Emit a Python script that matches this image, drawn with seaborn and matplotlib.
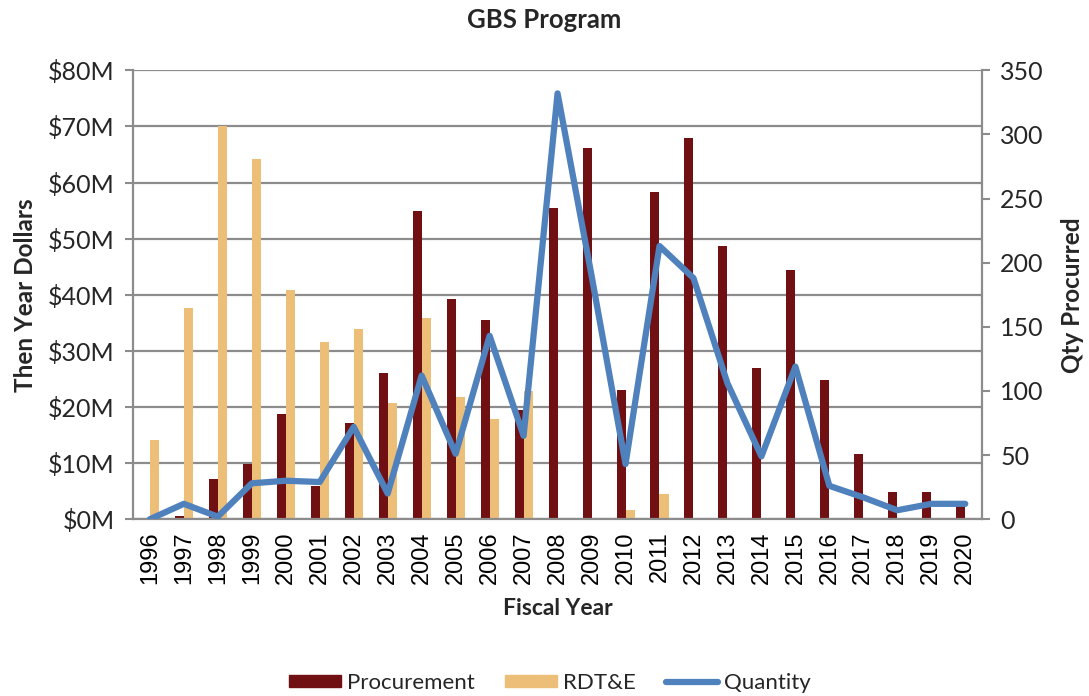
import numpy as np
import pandas as pd
import matplotlib
matplotlib.use("Agg")
import matplotlib.pyplot as plt
from matplotlib.patches import Patch
from matplotlib.lines import Line2D
from matplotlib.ticker import FuncFormatter, MultipleLocator
import seaborn as sns

# Fiscal years and funding (then-year $M) / quantities
years = [str(y) for y in range(1996, 2021)]
procurement = [0.0, 0.6, 7.2, 9.9, 18.7, 5.9, 17.2, 26.1, 54.9, 39.2, 35.5, 19.4,
               55.4, 66.1, 23.0, 58.3, 67.9, 48.7, 27.0, 44.4, 24.8, 11.7, 4.9, 4.9, 2.8]
rdte = [14.1, 37.7, 70.1, 64.2, 40.9, 31.6, 33.9, 20.7, 35.8, 21.8, 17.9, 22.8,
        0.3, 0.0, 1.7, 4.5, 0, 0, 0, 0, 0, 0, 0, 0, 0]
quantity = [0, 12, 2, 28, 30, 29, 72, 20, 112, 51, 143, 65,
            332, 190, 43, 213, 188, 106, 49, 119, 26, 17, 7, 12, 12]

series_names = ["Procurement", "RDT&E"]
line_name = "Quantity"

c_proc = "#701012"
c_rdte = "#EDBE78"
c_qty = "#4F81BD"
c_grid = "#8C8C8C"

sns.set_theme(style="white")
plt.rcParams["font.family"] = ["Lato", "DejaVu Sans"]

bars = pd.DataFrame({
    "year": years * 2,
    "value": procurement + rdte,
    "series": [series_names[0]] * len(years) + [series_names[1]] * len(years),
})
qty_df = pd.DataFrame({"year": years, "qty": quantity})

fig = plt.figure(figsize=(10.89, 6.96), dpi=100)
ax = fig.add_axes([0.122, 0.254, 0.780, 0.645])

sns.barplot(data=bars, x="year", y="value", hue="series", hue_order=series_names,
            palette=[c_proc, c_rdte], width=0.53, gap=0, saturation=1,
            dodge=True, legend=False, ax=ax, edgecolor="none", linewidth=0)

ax.set_ylim(0, 80)
ax.yaxis.set_major_locator(MultipleLocator(10))
ax.yaxis.set_major_formatter(FuncFormatter(lambda v, p: f"${v:.0f}M"))
ax.grid(axis="y", color=c_grid, lw=1.6)
ax.set_axisbelow(True)
ax.set_xlim(-0.5, len(years) - 0.5)

# tick marks sit between categories, labels at centres
ax.set_xticks(np.arange(-0.5, len(years), 1), minor=True)
ax.tick_params(axis="x", which="major", length=0, labelrotation=90,
               labelsize=17, pad=9, labelcolor="black")
ax.tick_params(axis="x", which="minor", length=6, width=1.5, color=c_grid, direction="out")
ax.tick_params(axis="y", length=6, width=1.5, color=c_grid, direction="out",
               labelsize=18, pad=7, left=True)
for lab in ax.get_xticklabels():
    lab.set_family(["Liberation Sans", "DejaVu Sans"])

for side in ["top", "right"]:
    ax.spines[side].set_visible(False)
for side in ["left", "bottom"]:
    ax.spines[side].set_color(c_grid)
    ax.spines[side].set_linewidth(1.6)

ax.set_xlabel("Fiscal Year", fontsize=16.5, fontweight="bold", labelpad=10)
ax.set_ylabel("Then Year Dollars", fontsize=17.5, fontweight="bold", labelpad=8)

ax2 = ax.twinx()
sns.pointplot(data=qty_df, x="year", y="qty", color=c_qty, marker="",
              linewidth=4.5, errorbar=None, ax=ax2)
for ln in ax2.lines:
    ln.set_solid_joinstyle("round")
    ln.set_solid_capstyle("round")
ax2.set_xlim(-0.5, len(years) - 0.5)
ax2.set_ylim(0, 350)
ax2.yaxis.set_major_locator(MultipleLocator(50))
ax2.tick_params(axis="y", length=6, width=1.5, color=c_grid, direction="out",
                labelsize=18, pad=7, right=True)
ax2.set_ylabel("Qty Procurred", fontsize=17.5, fontweight="bold", labelpad=12)
ax2.grid(False)
for side in ["top", "left", "bottom"]:
    ax2.spines[side].set_visible(False)
ax2.spines["right"].set_color(c_grid)
ax2.spines["right"].set_linewidth(1.6)

fig.suptitle("GBS Program", fontsize=18.5, fontweight="bold", y=0.988)

handles = [Patch(color=c_proc, label=series_names[0]),
           Patch(color=c_rdte, label=series_names[1]),
           Line2D([], [], color=c_qty, lw=4.5, solid_capstyle="round", label=line_name)]
fig.legend(handles=handles, loc="center", bbox_to_anchor=(0.505, 0.019), ncol=3,
           frameon=False, fontsize=16, handlelength=2.35, handleheight=0.5,
           columnspacing=1.35, handletextpad=0.27)

fig.savefig("out.png", dpi=100)
